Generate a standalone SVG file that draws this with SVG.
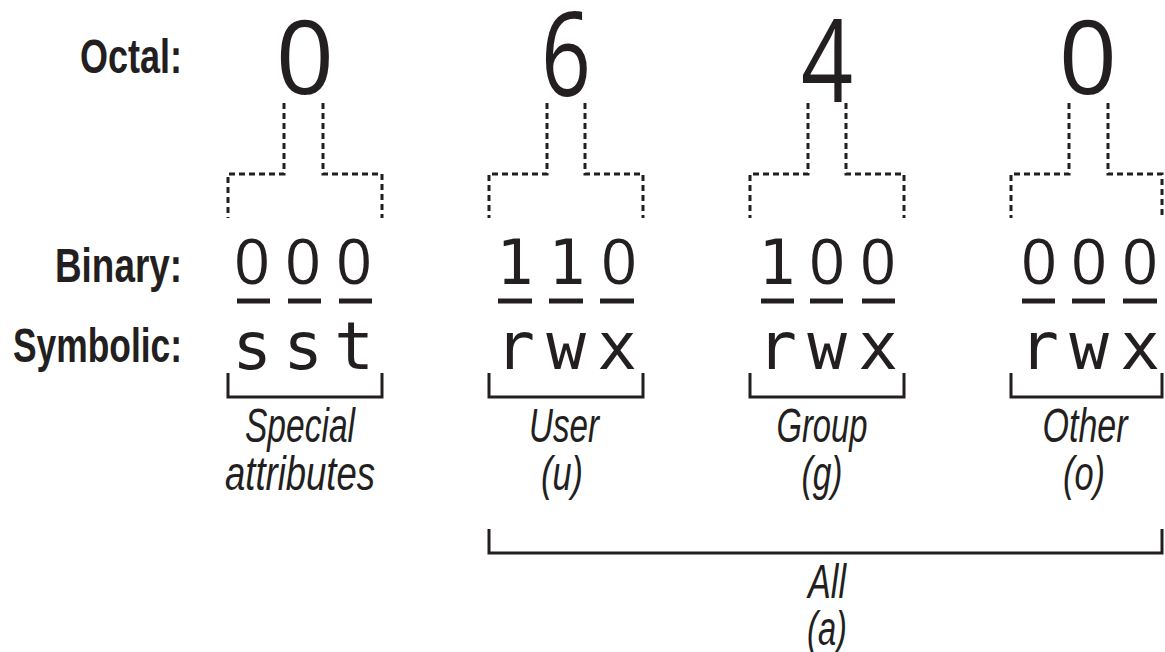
<svg xmlns="http://www.w3.org/2000/svg" width="1165" height="652" viewBox="0 0 1165 652">
<style>
.lbl{font-family:"Liberation Sans",Arial,sans-serif;font-weight:bold;font-size:49px;fill:#231f20;text-anchor:end}
.oct{font-family:"Open Sans","Liberation Sans",sans-serif;font-size:102px;fill:#231f20;text-anchor:middle}
.mono{font-family:"DejaVu Sans Mono","Liberation Mono",monospace;font-size:62px;fill:#231f20;text-anchor:middle}
.zero{font-family:"Open Sans","Liberation Sans",sans-serif;font-size:63px;fill:#231f20;text-anchor:middle}
.sym{font-family:"DejaVu Sans Mono","Liberation Mono",monospace;font-size:66px;fill:#231f20;text-anchor:middle}
.it{font-family:"Liberation Sans",Arial,sans-serif;font-style:italic;font-size:48px;fill:#231f20;text-anchor:middle}
.dash{fill:none;stroke:#231f20;stroke-width:3;stroke-dasharray:6 4}
.brk{fill:none;stroke:#231f20;stroke-width:3}
.ul{stroke:#231f20;stroke-width:5}
</style>
<rect width="1165" height="652" fill="#ffffff"/>
<g id="row-labels">
<text class="lbl" x="182" y="73" textLength="102" lengthAdjust="spacingAndGlyphs">Octal:</text>
<text class="lbl" x="182" y="282" textLength="127" lengthAdjust="spacingAndGlyphs">Binary:</text>
<text class="lbl" x="182" y="362" textLength="169" lengthAdjust="spacingAndGlyphs">Symbolic:</text>
</g>
<g id="connectors">
<path class="dash" d="M284,103 V174 H228 V218 M323,103 V174 H382 V218"/>
<path class="dash" d="M547,103 V174 H489 V218 M585,103 V174 H643 V218"/>
<path class="dash" d="M808,103 V174 H750 V218 M846,103 V174 H904 V218"/>
<path class="dash" d="M1069,103 V174 H1011 V218 M1108,103 V174 H1162 V218"/>
<path class="brk" d="M228,373 V397 H382 V373"/>
<path class="brk" d="M489,373 V397 H643 V373"/>
<path class="brk" d="M750,373 V397 H904 V373"/>
<path class="brk" d="M1011,373 V397 H1162 V373"/>
<path class="brk" d="M489,529 V553 H1162 V529"/>
</g>
<g id="special">
<text class="oct" x="305" y="94">0</text>
<text class="zero" x="252" y="284">0</text>
<text class="zero" x="303" y="284">0</text>
<text class="zero" x="354" y="284">0</text>
<line class="ul" x1="237" y1="301" x2="270" y2="301"/>
<line class="ul" x1="288" y1="301" x2="321" y2="301"/>
<line class="ul" x1="339" y1="301" x2="372" y2="301"/>
<text class="sym" x="252" y="369">s</text>
<text class="sym" x="303" y="369">s</text>
<text class="sym" x="354" y="369">t</text>
<text class="it" x="300" y="442" textLength="110" lengthAdjust="spacingAndGlyphs">Special</text>
<text class="it" x="300" y="490" textLength="150" lengthAdjust="spacingAndGlyphs">attributes</text>
</g>
<g id="user">
<text class="oct" x="566" y="96" style="font-size:118px" textLength="50" lengthAdjust="spacingAndGlyphs">6</text>
<text class="mono" x="515" y="284">1</text>
<text class="mono" x="567" y="284">1</text>
<text class="zero" x="619" y="284">0</text>
<line class="ul" x1="498" y1="301" x2="532" y2="301"/>
<line class="ul" x1="549" y1="301" x2="583" y2="301"/>
<line class="ul" x1="600" y1="301" x2="634" y2="301"/>
<text class="sym" x="515" y="369">r</text>
<text class="sym" x="566" y="369">w</text>
<text class="sym" x="617" y="369">x</text>
<text class="it" x="564" y="442" textLength="70" lengthAdjust="spacingAndGlyphs">User</text>
<text class="it" x="562" y="490" textLength="42" lengthAdjust="spacingAndGlyphs">(u)</text>
</g>
<g id="group">
<text class="oct" x="827" y="102" style="font-size:115px" textLength="52" lengthAdjust="spacingAndGlyphs">4</text>
<text class="mono" x="777" y="284">1</text>
<text class="zero" x="827" y="284">0</text>
<text class="zero" x="878" y="284">0</text>
<line class="ul" x1="761" y1="301" x2="794" y2="301"/>
<line class="ul" x1="810" y1="301" x2="843" y2="301"/>
<line class="ul" x1="862" y1="301" x2="895" y2="301"/>
<text class="sym" x="777" y="369">r</text>
<text class="sym" x="827" y="369">w</text>
<text class="sym" x="878" y="369">x</text>
<text class="it" x="822" y="442" textLength="91" lengthAdjust="spacingAndGlyphs">Group</text>
<text class="it" x="822" y="490" textLength="41" lengthAdjust="spacingAndGlyphs">(g)</text>
</g>
<g id="other">
<text class="oct" x="1088" y="94">0</text>
<text class="zero" x="1039" y="284">0</text>
<text class="zero" x="1089" y="284">0</text>
<text class="zero" x="1140" y="284">0</text>
<line class="ul" x1="1022" y1="301" x2="1055" y2="301"/>
<line class="ul" x1="1072" y1="301" x2="1105" y2="301"/>
<line class="ul" x1="1123" y1="301" x2="1157" y2="301"/>
<text class="sym" x="1039" y="369">r</text>
<text class="sym" x="1089" y="369">w</text>
<text class="sym" x="1140" y="369">x</text>
<text class="it" x="1085" y="442" textLength="85" lengthAdjust="spacingAndGlyphs">Other</text>
<text class="it" x="1084" y="490" textLength="42" lengthAdjust="spacingAndGlyphs">(o)</text>
</g>
<g id="all">
<text class="it" x="827" y="598" textLength="38" lengthAdjust="spacingAndGlyphs">All</text>
<text class="it" x="827" y="645" textLength="40" lengthAdjust="spacingAndGlyphs">(a)</text>
</g>
</svg>
